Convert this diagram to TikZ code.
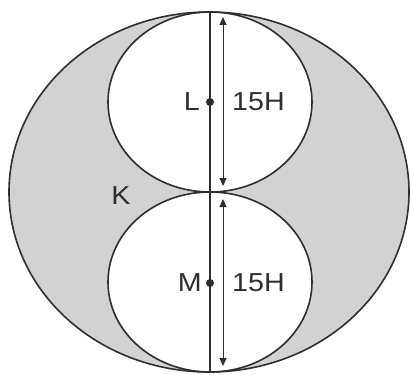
\documentclass[tikz,border=0pt]{standalone}
\usepackage{fontspec}
\setmainfont{Liberation Sans}
\usetikzlibrary{arrows.meta}
\definecolor{ink}{HTML}{2E2E2E}
\definecolor{greyfill}{HTML}{D2D2D2}
\tikzset{
  outline/.style={draw=ink, line width=1.6pt},
  dim/.style={draw=ink, line width=1pt, {Triangle[length=8pt,width=7pt]}-{Triangle[length=8pt,width=7pt]}},
  lbl/.style={text=ink, font=\fontsize{26}{26}\selectfont, inner sep=0pt, xscale=1.1},
  centre/.style={circle, fill=ink, inner sep=0pt, minimum size=8pt}
}
\begin{document}
\begin{tikzpicture}[x=1pt,y=-1pt]
\useasboundingbox (0,0) rectangle (411,374);
% shaded region
\fill[greyfill] (209,192) ellipse [x radius=200, y radius=180];
\fill[white] (210,102) ellipse [x radius=102, y radius=90];
\fill[white] (210,282) ellipse [x radius=102, y radius=90];
\draw[outline] (209,192) ellipse [x radius=200, y radius=180];
\draw[outline] (210,102) ellipse [x radius=102, y radius=90];
\draw[outline] (210,282) ellipse [x radius=102, y radius=90];
% axis
\coordinate (top) at (210,12);
\coordinate (bot) at (210,372);
\draw[outline] (top) -- (bot);
% centres
\node[centre] (L) at (210,102) {};
\node[centre] (M) at (210,283) {};
% dimension arrows
\coordinate (a1) at (223,17);
\coordinate (a2) at (223,186);
\coordinate (b1) at (223,199);
\coordinate (b2) at (223,366);
\draw[dim] (a1) -- (a2);
\draw[dim] (b1) -- (b2);
% labels
\node[lbl, anchor=east] (tL) at (200,102) {L};
\node[lbl, anchor=east] (tM) at (202,283) {M};
\node[lbl, anchor=west] (dL) at (232,102) {15H};
\node[lbl, anchor=west] (dM) at (232,283) {15H};
\node[lbl] (K) at (121,196) {K};
\end{tikzpicture}
\end{document}
